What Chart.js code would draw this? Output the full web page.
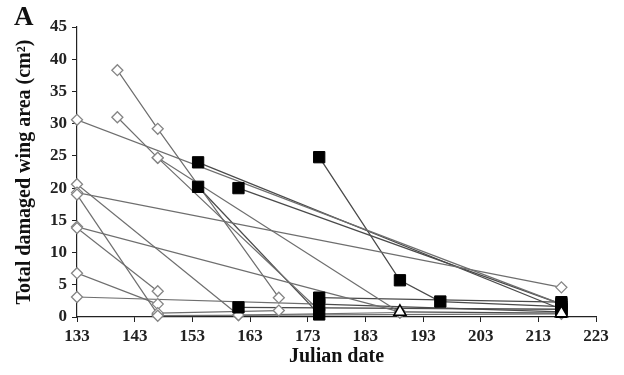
<!DOCTYPE html>
<html><head><meta charset="utf-8">
<script src="https://cdn.jsdelivr.net/npm/chart.js@4/dist/chart.umd.min.js"></script>
<style>
html,body{margin:0;padding:0;background:#fff;}
#wrap{position:relative;width:624px;height:375px;}
#lbl{position:absolute;left:14px;top:1px;font:bold 27px 'Liberation Serif',serif;color:#111;}
</style></head><body>
<div id="wrap"><canvas id="c" width="624" height="375"></canvas><div id="lbl">A</div></div>
<script>
const xTicks = [133,143,153,163,173,183,193,203,213,223];
const yTicks = [0,5,10,15,20,25,30,35,40,45];

// open diamonds: each track = one individual's repeated measurements
const diamondDates = [
  [133,217],[140,147,168],[140,147,175],[133,161],[133,217],[133,147],
  [133,189],[133,147],[133,147],[133,175],[147,168],[147,217],[161,189],[147,189]
];
const diamondAreas = [
  [30.6,2.0],[38.3,29.2,3.0],[31.0,24.7,1.0],[20.6,0.3],[19.3,4.6],[19.0,0.4],
  [14.0,0.8],[13.8,4.0],[6.8,2.0],[3.1,2.0],[0.6,1.0],[0.2,0.5],[0.3,0.7],[24.7,0.7]
];

// filled squares
const squareDates = [
  [154,217],[154,175],[161,217],[175,189,196,217],[161,217],[175,217],[175,217]
];
const squareAreas = [
  [24.0,1.2],[20.2,0.4],[20.0,2.0],[24.8,5.7,2.4,1.6],[1.5,1.2],[3.0,2.3],[2.0,0.8]
];

// open triangles
const triangleDates = [[189,217]];
const triangleAreas = [[0.8,0.6]];

const serif = "'Liberation Serif','Times New Roman',serif";
const datasets = [];
function addTracks(dates, areas, color, width){
  dates.forEach((d,i)=>{
    datasets.push({
      data: d.map((x,j)=>({x:x, y:areas[i][j]})),
      showLine:true, borderColor:color, borderWidth:width,
      pointRadius:0, order:5
    });
  });
}
addTracks(diamondDates, diamondAreas, '#6e6e6e', 1.2);
addTracks(squareDates, squareAreas, '#4a4a4a', 1.3);
addTracks(triangleDates, triangleAreas, '#4a4a4a', 1.3);

function flat(dates, areas){
  const out=[];
  dates.forEach((d,i)=>d.forEach((x,j)=>out.push({x:x,y:areas[i][j]})));
  return out;
}
datasets.push({data:flat(diamondDates,diamondAreas), showLine:false, pointStyle:'rectRot', clip:false,
  pointRadius:5.5, backgroundColor:'#fff', borderColor:'#858585', borderWidth:1.3, order:3});
datasets.push({data:flat(squareDates,squareAreas), showLine:false, pointStyle:'rect', clip:false,
  pointRadius:8, backgroundColor:'#000', borderColor:'#000', borderWidth:1, order:2});
datasets.push({data:flat(triangleDates,triangleAreas), showLine:false, pointStyle:'triangle', clip:false,
  pointRadius:7, backgroundColor:'#fff', borderColor:'#000', borderWidth:1.5, order:1});

new Chart(document.getElementById('c'), {
  type:'scatter',
  data:{datasets},
  options:{
    responsive:false, animation:false,
    layout:{padding:{left:0,right:28,top:27,bottom:0}},
    plugins:{legend:{display:false}, tooltip:{enabled:false}},
    scales:{
      x:{
        type:'linear', min:133, max:223,
        afterBuildTicks:(s)=>{s.ticks = xTicks.map(v=>({value:v}));},
        afterFit:(s)=>{s.height = 58;},
        grid:{display:true, drawOnChartArea:false, drawTicks:true, tickLength:5, color:'#222'},
        border:{color:'#222', width:1.2},
        ticks:{color:'#222', padding:4, maxRotation:0, autoSkip:false, font:{family:serif, size:17, weight:'bold'}},
        title:{display:true, text:'Julian date', color:'#111', padding:{top:0,bottom:6},
          font:{family:serif, size:20, weight:'bold'}}
      },
      y:{
        type:'linear', min:0, max:45,
        afterBuildTicks:(s)=>{s.ticks = yTicks.map(v=>({value:v}));},
        afterFit:(s)=>{s.width = 77;},
        grid:{display:true, drawOnChartArea:false, drawTicks:true, tickLength:5, color:'#222'},
        border:{color:'#222', width:1.2},
        ticks:{color:'#222', padding:5, autoSkip:false, font:{family:serif, size:17, weight:'bold'}},
        title:{display:true, text:'Total damaged wing area (cm²)', color:'#111', padding:{top:13,bottom:0},
          font:{family:serif, size:20, weight:'bold'}}
      }
    }
  }
});
</script>
</body></html>
